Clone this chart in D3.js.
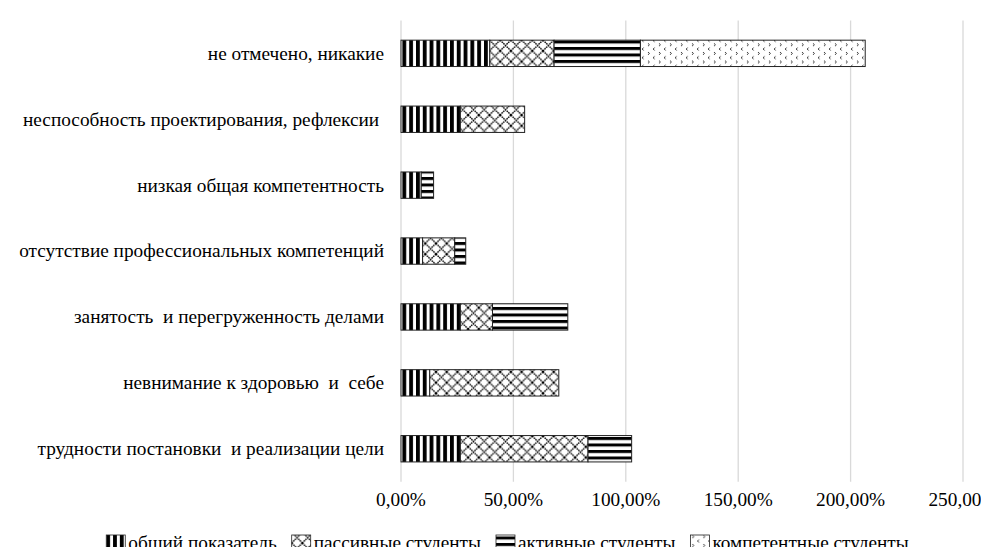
<!DOCTYPE html>
<html><head><meta charset="utf-8">
<script src="https://cdn.jsdelivr.net/npm/d3@7"></script>
</head>
<body><svg id="c" width="989" height="547"></svg>
<script>
const categories = [
  "не отмечено, никакие",
  "неспособность проектирования, рефлексии ",
  "низкая общая компетентность",
  "отсутствие профессиональных компетенций",
  "занятость  и перегруженность делами",
  "невнимание к здоровью  и  себе",
  "трудности постановки  и реализации цели"
];
const seriesNames = ["общий показатель","пассивные студенты","активные студенты","компетентные студенты"];
const general   = [39.5, 26.4, 9.0, 9.6, 26.4, 12.8, 26.4];
const passive   = [28.6, 28.6, 0, 14.3, 14.3, 57.4, 56.8];
const active    = [38.4, 0, 5.5, 4.9, 33.5, 0, 19.4];
const competent = [100, 0, 0, 0, 0, 0, 0];
const tickValues = [0, 50, 100, 150, 200, 250];

const fams = ["Liberation Serif"];
const fontName = fams[0];
const series = [general, passive, active, competent];
const patIds = ["pVert","pDiam","pHoriz","pDots"];
const svg = d3.select("#c");
const keepSpaces = s => s.replace(/ (?= )| $/g, "\u00a0");
function styleText(sel, fs){
  return sel.attr("font-size",fs).style("font-family",`"${fontName}"`);
}

const probe = styleText(svg.append("text").attr("x",10).attr("y",30).text(keepSpaces(categories[6])), 20);
const FS = Math.round(200 * 347 / probe.node().getComputedTextLength())/10;
probe.remove();

const defs = svg.append("defs");
const pv = defs.append("pattern").attr("id","pVert").attr("patternUnits","userSpaceOnUse").attr("width",6.8).attr("height",10);
pv.append("rect").attr("width",6.8).attr("height",10).attr("fill","#fff");
pv.append("rect").attr("x",0).attr("width",3.8).attr("height",10).attr("fill","#000");
const pd = defs.append("pattern").attr("id","pDiam").attr("patternUnits","userSpaceOnUse").attr("width",10.7).attr("height",10.7);
pd.append("rect").attr("width",10.7).attr("height",10.7).attr("fill","#fff");
pd.append("path").attr("d","M0,0L10.7,10.7M10.7,0L0,10.7").attr("stroke","#000").attr("stroke-width",1.4).attr("stroke-dasharray","1.6,0.7").attr("fill","none");
const ph = defs.append("pattern").attr("id","pHoriz").attr("patternUnits","userSpaceOnUse").attr("width",10).attr("height",6.5);
ph.append("rect").attr("width",10).attr("height",6.5).attr("fill","#fff");
ph.append("rect").attr("y",0).attr("width",10).attr("height",3).attr("fill","#000");
const pdot = defs.append("pattern").attr("id","pDots").attr("patternUnits","userSpaceOnUse").attr("width",11).attr("height",8.6);
pdot.append("rect").attr("width",11).attr("height",8.6).attr("fill","#fff");
pdot.append("path").attr("d","M2,1L3.4,2.4L2,3.8M8.6,5.3L7.2,6.7L8.6,8.1").attr("stroke","#000").attr("stroke-width",0.8).attr("fill","none");

const x = d3.scaleLinear().domain([0,250]).range([393, 955]);
const y = d3.scaleBand().domain(categories).range([12.4, 473.7]).paddingInner(0.6).paddingOuter(0.3);

svg.append("g").selectAll("line").data(tickValues).join("line")
  .attr("x1", d=>x(d)).attr("x2", d=>x(d)).attr("y1", 12.4).attr("y2", 473.7)
  .attr("stroke","#d9d9d9").attr("stroke-width",1.3);

const stackData = categories.map((c,i)=>{ const o={cat:c}; series.forEach((s,k)=>o["s"+k]=s[i]); return o; });
const stack = d3.stack().keys(series.map((s,k)=>"s"+k))(stackData);
stack.forEach((layer,k)=>{
  svg.append("g").selectAll("rect").data(layer.filter(d=>d[1]-d[0]>0)).join("rect")
    .attr("x", d=>x(d[0])).attr("width", d=>x(d[1])-x(d[0]))
    .attr("y", d=>y(d.data.cat)).attr("height", y.bandwidth())
    .attr("fill", `url(#${patIds[k]})`).attr("stroke","#222").attr("stroke-width",1);
});

categories.forEach(c=>{
  styleText(svg.append("text").attr("x",376).attr("y",y(c)+y.bandwidth()/2+FS*0.33)
    .attr("text-anchor","end").text(keepSpaces(c)), FS);
});

const fmt = d=> d3.format(".2f")(d).replace(".",",")+"%";
tickValues.forEach(v=>{
  styleText(svg.append("text").attr("x",x(v)).attr("y",484+FS*0.7)
    .attr("text-anchor","middle").text(fmt(v)), FS);
});

const sw = 19, sh = 16, gapT = 3, gapI = 15;
const items = seriesNames.map((n,k)=>{
  const g = svg.append("g");
  g.append("rect").attr("width",sw).attr("height",sh).attr("y",-sh/2)
    .attr("fill",`url(#${patIds[k]})`).attr("stroke","#222").attr("stroke-width",0.8);
  const t = styleText(g.append("text").attr("x",sw+gapT).attr("y",FS*0.33).text(n), FS);
  return {g, w: sw+gapT+t.node().getComputedTextLength()};
});
const total = d3.sum(items,d=>d.w)+gapI*(items.length-1);
let cx = 499.5 - total/2;
items.forEach(it=>{ it.g.attr("transform",`translate(${cx},535)`); cx += it.w+gapI; });
</script></body></html>
